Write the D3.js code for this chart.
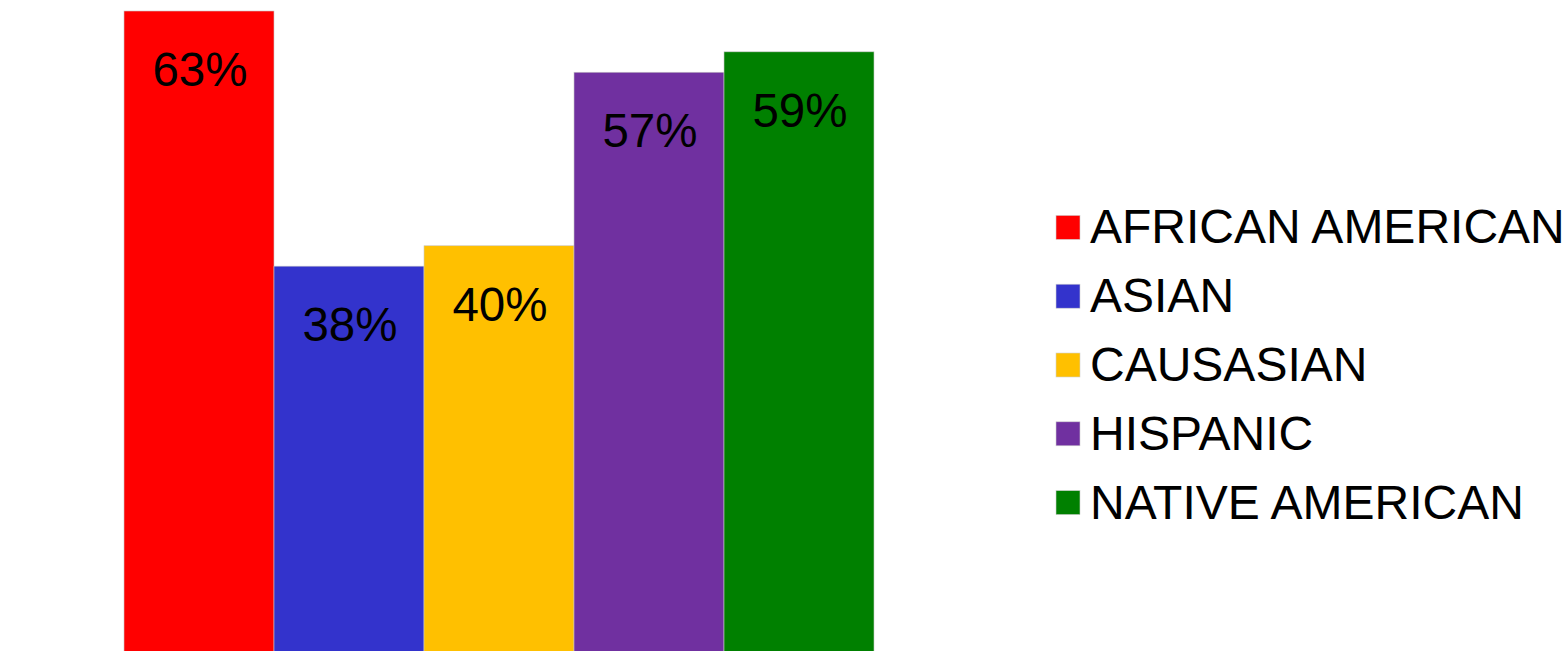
<!DOCTYPE html>
<html>
<head>
<meta charset="utf-8">
<script src="https://cdn.jsdelivr.net/npm/d3@7"></script>
<style>
  html, body { margin: 0; padding: 0; background: #fff; }
  svg { display: block; }
  text { font-family: "Liberation Sans", Arial, sans-serif; }
</style>
</head>
<body>
<svg id="chart" width="1568" height="651"></svg>
<script>
// Share of respondents by group
const categories = ["AFRICAN AMERICAN", "ASIAN", "CAUSASIAN", "HISPANIC", "NATIVE AMERICAN"];
const values = [63, 38, 40, 57, 59];
const colors = ["#FF0000", "#3333CC", "#FFC000", "#7030A0", "#008000"];

const svg = d3.select("#chart");

const x = d3.scaleBand().domain(categories).range([124, 874]).padding(0);
const y = d3.scaleLinear().domain([0, 63]).range([654, 11]);
const color = d3.scaleOrdinal().domain(categories).range(colors);

const data = categories.map((c, i) => ({ cat: c, val: values[i] }));

// Bars
svg.append("g").selectAll("rect")
  .data(data)
  .join("rect")
  .attr("x", d => x(d.cat))
  .attr("y", d => y(d.val))
  .attr("width", x.bandwidth())
  .attr("height", d => y(0) - y(d.val))
  .attr("fill", d => color(d.cat))
  .attr("stroke", "#c8c8c8")
  .attr("stroke-width", 0.6);

// Value labels inside the top of each bar
svg.append("g").selectAll("text")
  .data(data)
  .join("text")
  .attr("x", d => x(d.cat) + x.bandwidth() / 2 + 1)
  .attr("y", d => y(d.val) + 75)
  .attr("text-anchor", "middle")
  .attr("font-size", 47.5)
  .attr("fill", "#000")
  .text(d => d.val + "%");

// Legend
const legend = svg.append("g").attr("transform", "translate(1056, 0)");
const rowY = d3.scaleBand().domain(categories).range([193, 537]);
const item = legend.selectAll("g")
  .data(categories)
  .join("g")
  .attr("transform", d => `translate(0, ${rowY(d) + rowY.bandwidth() / 2})`);

item.append("rect")
  .attr("x", 0)
  .attr("y", -12)
  .attr("width", 24)
  .attr("height", 24)
  .attr("fill", d => color(d))
  .attr("stroke", "#d0d0d0")
  .attr("stroke-width", 0.6);

item.append("text")
  .attr("x", 34)
  .attr("y", 16)
  .attr("font-size", 48)
  .attr("fill", "#000")
  .text(d => d);
</script>
</body>
</html>
